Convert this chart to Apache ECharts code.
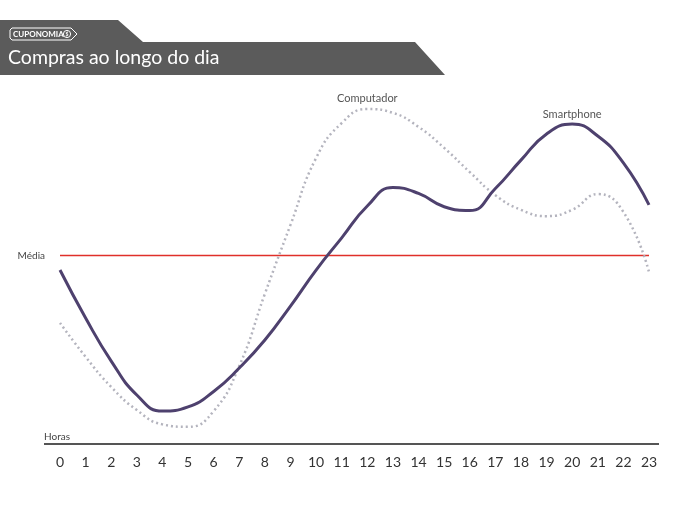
<!DOCTYPE html>
<html>
<head>
<meta charset="utf-8">
<script src="https://cdn.jsdelivr.net/npm/echarts@6/dist/echarts.min.js"></script>
<style>
  html, body { margin: 0; padding: 0; background: #fff; }
  #chart { width: 700px; height: 525px; }
</style>
</head>
<body>
<div id="chart"></div>
<script>
// horas do dia
var hours = ['0','1','2','3','4','5','6','7','8','9','10','11','12','13','14','15','16','17','18','19','20','21','22','23'];
// valores relativos (0-100)
var smartphone = [49.7, 36.0, 23.7, 14.0, 9.4, 10.6, 15.0, 21.7, 29.7, 39.4, 49.7, 58.9, 68.0, 73.3, 71.6, 67.8, 66.7, 73.0, 81.1, 88.6, 91.4, 88.0, 80.3, 68.3];
var computador = [34.6, 24.9, 16.3, 9.7, 5.6, 4.9, 9.4, 22.3, 42.9, 62.6, 81.7, 91.7, 95.7, 94.6, 90.6, 84.6, 77.7, 71.1, 66.9, 65.1, 66.9, 71.4, 66.3, 49.1];
var media = 53.86;

var chart = echarts.init(document.getElementById('chart'));

var font = 'Lato, "Open Sans", sans-serif';

// linha da média (mesmo valor em todas as horas)
var mediaData = hours.map(function() { return media; });

var option = {
	animation: false,
	backgroundColor: '#fff',
	grid: {
		left: 60,
		right: 51,
		top: 94,
		bottom: 81
	},
	xAxis: {
		type: 'category',
		boundaryGap: false,
		data: hours,
		axisLine: { show: false },
		axisTick: { show: false },
		splitLine: { show: false },
		axisLabel: {
			color: '#333',
			fontSize: 14,
			fontFamily: font,
			margin: 11,
			interval: 0
		}
	},
	yAxis: {
		type: 'value',
		min: 0,
		max: 100,
		show: false
	},
	graphic: [
		// faixa do título
		{
			type: 'polygon',
			shape: { points: [[0, 20], [118, 20], [143, 42], [415, 42], [445, 75], [0, 75]] },
			style: { fill: '#5b5b5b' }
		},
		// selo cuponomia
		{
			type: 'polygon',
			shape: { points: [[12, 28], [71, 28], [77, 34], [71, 40], [12, 40], [10, 38], [10, 30]] },
			style: { fill: 'none', stroke: '#fff', lineWidth: 1 }
		},
		{
			type: 'text',
			left: 13, top: 30,
			style: { text: 'CUPONOMIA', fill: '#fff', font: 'bold 8px ' + font }
		},
		{
			type: 'circle',
			shape: { cx: 67, cy: 34, r: 3.6 },
			style: { fill: 'none', stroke: '#fff', lineWidth: 1 }
		},
		{
			type: 'text',
			x: 67, y: 34,
			style: { text: '$', fill: '#fff', font: 'bold 5px ' + font, align: 'center', verticalAlign: 'middle' }
		},
		{
			type: 'text',
			left: 8, top: 48,
			style: { text: 'Compras ao longo do dia', fill: '#fff', font: '19.5px ' + font }
		},
		// eixo das horas
		{
			type: 'line',
			shape: { x1: 44, y1: 444, x2: 659, y2: 444 },
			style: { stroke: '#555', lineWidth: 2 }
		},
		{
			type: 'text',
			left: 44, top: 432,
			style: { text: 'Horas', fill: '#444', font: '10px ' + font }
		}
	],
	series: [
		{
			name: 'Média',
			type: 'line',
			symbol: 'none',
			silent: true,
			data: mediaData,
			itemStyle: { color: '#e0302a' },
			lineStyle: { color: '#e0302a', width: 1.3 },
			markPoint: {
				symbol: 'circle',
				symbolSize: 0,
				data: [{ coord: [0, media] }],
				label: {
					show: true,
					position: 'left',
					distance: 15,
					formatter: 'Média',
					color: '#444',
					fontSize: 10,
					fontFamily: font
				}
			}
		},
		{
			name: 'Computador',
			type: 'line',
			smooth: 0.5,
			symbol: 'none',
			data: computador,
			lineStyle: { color: '#b4b4be', width: 2.5, type: [2, 3] },
			markPoint: {
				symbol: 'circle',
				symbolSize: 0,
				data: [{ type: 'max' }],
				label: {
					show: true,
					position: 'top',
					distance: 5,
					formatter: 'Computador',
					color: '#555',
					fontSize: 11,
					fontFamily: font
				}
			}
		},
		{
			name: 'Smartphone',
			type: 'line',
			smooth: 0.5,
			symbol: 'none',
			data: smartphone,
			lineStyle: { color: '#4e416e', width: 3 },
			markPoint: {
				symbol: 'circle',
				symbolSize: 0,
				data: [{ type: 'max' }],
				label: {
					show: true,
					position: 'top',
					distance: 4,
					formatter: 'Smartphone',
					color: '#555',
					fontSize: 11,
					fontFamily: font
				}
			}
		}
	]
};

chart.setOption(option);
</script>
</body>
</html>
